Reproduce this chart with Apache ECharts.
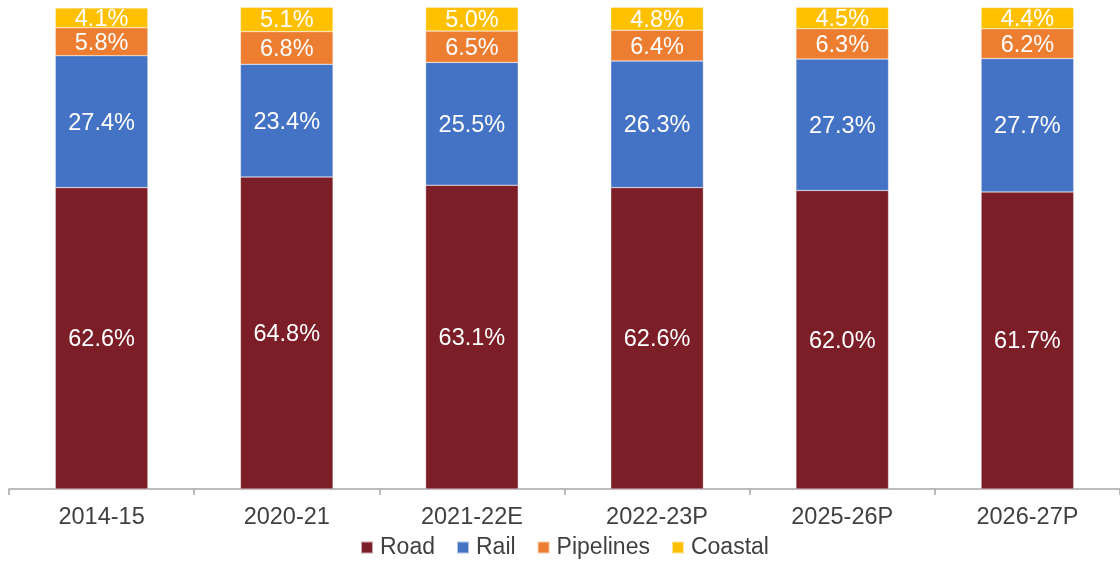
<!DOCTYPE html>
<html><head><meta charset="utf-8">
<script src="https://cdn.jsdelivr.net/npm/echarts@6/dist/echarts.min.js"></script>
<style>html,body{margin:0;padding:0;background:#fff}#c{width:1120px;height:561px}</style>
</head><body><div id="c"></div>
<script>
const categories = ['2014-15','2020-21','2021-22E','2022-23P','2025-26P','2026-27P'];
const road = [62.6, 64.8, 63.1, 62.6, 62.0, 61.7];
const rail = [27.4, 23.4, 25.5, 26.3, 27.3, 27.7];
const pipelines = [5.8, 6.8, 6.5, 6.4, 6.3, 6.2];
const coastal = [4.1, 5.1, 5.0, 4.8, 4.5, 4.4];
const names = ['Road','Rail','Pipelines','Coastal'];
const colors = ['#7B1E28','#4472C4','#ED7D31','#FFC000'];
const data = [road, rail, pipelines, coastal];
const font = 'Liberation Sans, Arial, sans-serif';
const chart = echarts.init(document.getElementById('c'));
chart.setOption({
  animation: false,
  grid: {left: 9, right: -6, top: 7.5, bottom: 72, containLabel: false},
  legend: {
    data: names, top: 531, left: 355, itemWidth: 12, itemHeight: 12, itemGap: 21,
    icon: 'rect', textStyle: {fontFamily: font, fontSize: 23, color: '#404040', padding: [0,0,0,2]}
  },
  xAxis: {
    type: 'category', data: categories,
    axisLine: {lineStyle: {color: '#A6A6A6', width: 1.5}},
    axisTick: {show: true, length: 6, lineStyle: {color: '#A6A6A6', width: 1.5}},
    axisLabel: {fontFamily: font, fontSize: 23.5, color: '#404040', margin: 17}
  },
  yAxis: {type: 'value', min: 0, max: 100, show: false, splitLine: {show: false}},
  series: data.map((d, i) => ({
    name: names[i], type: 'bar', stack: 'a', barWidth: '50%',
    data: d,
    itemStyle: {color: colors[i], borderColor: 'rgba(255,255,255,0.6)', borderWidth: 0.5},
    label: {show: true, position: 'inside', offset: [0, 1.5], formatter: p => p.value.toFixed(1) + '%',
      fontFamily: font, fontSize: 23.5, color: '#fff'}
  }))
});
</script></body></html>
